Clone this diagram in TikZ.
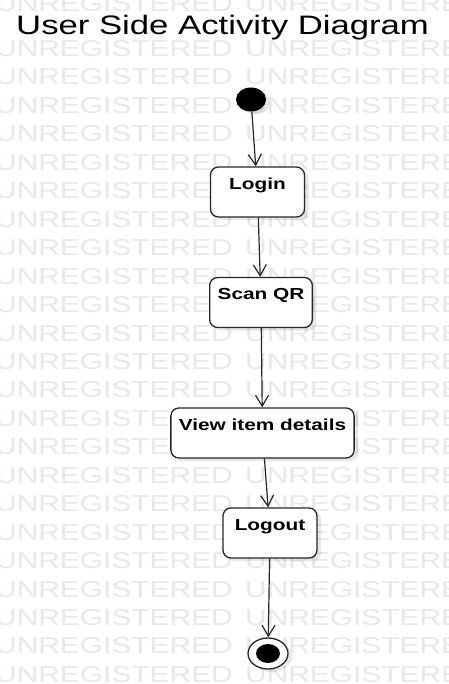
\documentclass[tikz,border=0pt]{standalone}
\usepackage{fontspec}
\setmainfont[FakeStretch=1.3]{Liberation Sans}
\usetikzlibrary{arrows.meta,shapes.geometric,shadows}

\begin{document}
\begin{tikzpicture}[x=1bp,y=-1bp,
    act/.style={rectangle, rounded corners=8bp, draw=black!85, line width=1.3bp, fill=white,
      font=\bfseries\fontsize{16bp}{18bp}\selectfont, minimum width=94bp, inner xsep=8bp,
      inner ysep=0pt, text height=22bp, text depth=28bp,
      drop shadow={shadow xshift=4bp, shadow yshift=-3bp, opacity=0.18, fill=black!50}},
    wm/.style={text=black!9, font=\fontsize{23bp}{24bp}\selectfont, inner sep=0pt},
    arr/.style={draw=black!85, line width=1.2bp},
    >={Straight Barb[length=11bp,width=13bp]}]
        \useasboundingbox (0,0) rectangle (449,684);
        % watermark rows
        \node[wm, anchor=base east] at (233,12) (wmtl) {UNREGISTERED};
        \node[wm, anchor=base west] at (245,12) (wmtr) {UNREGISTERED};
        \foreach \k in {0,...,22} {
          \node[wm, anchor=base east] at (233,56.5+28.45*\k) (wml\k) {UNREGISTERED};
          \node[wm, anchor=base west] at (245,56.5+28.45*\k) (wmr\k) {UNREGISTERED};
        }
        \node[anchor=base west, inner sep=0pt, font=\fontsize{26.7bp}{30bp}\selectfont] at (16,35) (title) {User Side Activity Diagram};
        % activity nodes
        \node[ellipse, fill=black, minimum width=30bp, minimum height=24bp, inner sep=0pt,
          drop shadow={shadow xshift=4bp, shadow yshift=-3bp, opacity=0.18, fill=black!50}] at (251,99.5) (start) {};
        \node[act] at (257.5,192) (login) {Login};
        \node[act] at (261,302.5) (scan) {Scan QR};
        \node[act] at (262.5,433) (view) {View item details};
        \node[act] at (270,533) (logout) {Logout};
        \node[ellipse, draw=black!85, line width=1.3bp, fill=white, minimum width=40bp, minimum height=31bp, inner sep=0pt,
          drop shadow={shadow xshift=4bp, shadow yshift=-3bp, opacity=0.18, fill=black!50}] at (268,653.5) (endo) {};
        \node[ellipse, fill=black, minimum width=24bp, minimum height=19bp, inner sep=0pt] at (endo) (endi) {};
        \draw[->,arr] (start) -- (login);
        \draw[->,arr] (login) -- (scan);
        \draw[->,arr] (scan) -- (view);
        \draw[->,arr] (view) -- (logout);
        \draw[->,arr] (logout) -- (endo);
\end{tikzpicture}
\end{document}
